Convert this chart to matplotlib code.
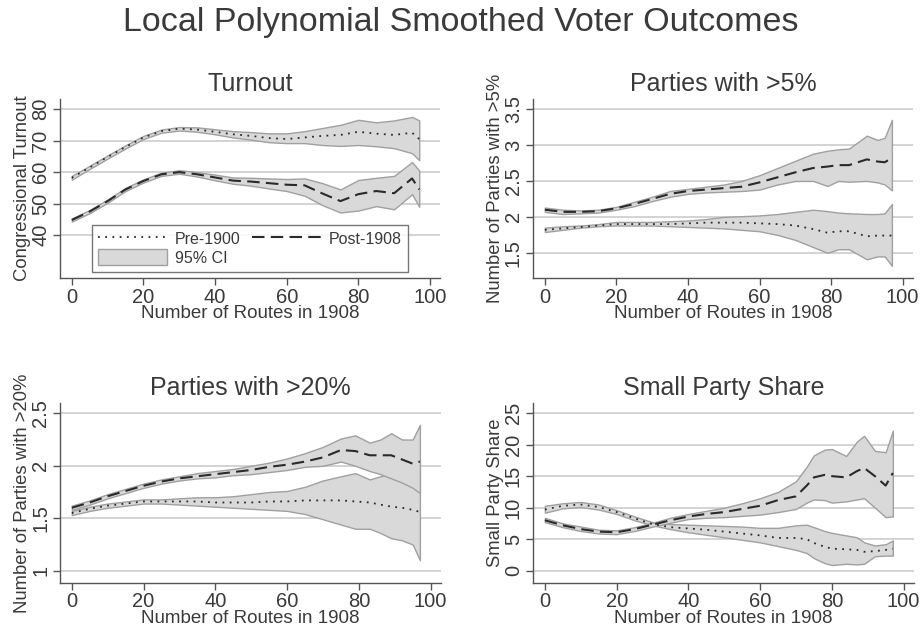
import matplotlib
matplotlib.use('Agg')
import matplotlib.pyplot as plt
from matplotlib.patches import Patch
from matplotlib.lines import Line2D

plt.rcParams['font.family'] = ['Liberation Sans', 'DejaVu Sans']

# --- Turnout ---
x_turn = [0, 5, 10, 15, 20, 25, 30, 35, 40, 45, 50, 55, 60, 65, 70, 75, 80, 85, 90, 95, 97]
turn_pre = [58.2, 61.5, 64.8, 68, 71, 73, 73.8, 73.5, 72.8, 72, 71.5, 70.8, 70.5, 71, 71.5, 71.8, 72.8, 72.2, 71.8, 72.5, 70.5]
turn_pre_lo = [57.6, 61, 64.3, 67.5, 70.5, 72.5, 73.2, 72.8, 72, 71, 70.3, 69.5, 69.2, 69.2, 68.6, 68.3, 68.6, 68.2, 67.6, 66, 63.8]
turn_pre_hi = [58.8, 62, 65.3, 68.5, 71.5, 73.5, 74.3, 74.2, 73.6, 73, 72.7, 72.3, 72.3, 73, 74, 75, 76.6, 75.8, 76.4, 77.5, 76.4]
turn_post = [44.8, 47.5, 50.8, 54.5, 57.2, 59.3, 60, 59.3, 58.3, 57.3, 57, 56.5, 56, 55.8, 53.2, 50.8, 53, 54, 53.3, 58, 54.5]
turn_post_lo = [44.3, 47, 50.3, 54, 56.7, 58.8, 59.5, 58.6, 57.4, 56.3, 55.7, 54.8, 54, 52.5, 49.5, 47.2, 47.8, 49.2, 48.2, 53, 49]
turn_post_hi = [45.3, 48, 51.3, 55, 57.7, 59.8, 60.6, 60, 59.2, 58.3, 58.2, 58, 57.8, 58, 56.5, 54.5, 57.5, 58.2, 58.8, 63.2, 60.5]

# --- Parties with >5% ---
x_p5 = [0, 5, 10, 15, 20, 25, 30, 35, 40, 45, 50, 55, 60, 65, 70, 75, 79, 82, 85, 90, 93, 95, 97]
p5_post = [2.1, 2.07, 2.07, 2.08, 2.12, 2.18, 2.25, 2.32, 2.36, 2.38, 2.4, 2.42, 2.48, 2.55, 2.62, 2.68, 2.7, 2.72, 2.72, 2.8, 2.77, 2.76, 2.82]
p5_post_lo = [2.07, 2.04, 2.05, 2.06, 2.1, 2.15, 2.22, 2.28, 2.32, 2.34, 2.35, 2.36, 2.38, 2.45, 2.5, 2.5, 2.43, 2.5, 2.49, 2.5, 2.48, 2.45, 2.37]
p5_post_hi = [2.13, 2.1, 2.09, 2.1, 2.14, 2.21, 2.28, 2.36, 2.39, 2.42, 2.45, 2.5, 2.58, 2.68, 2.78, 2.88, 2.92, 2.94, 2.95, 3.13, 3.07, 3.1, 3.35]
p5_pre = [1.82, 1.84, 1.86, 1.88, 1.9, 1.9, 1.9, 1.9, 1.91, 1.92, 1.92, 1.92, 1.91, 1.9, 1.88, 1.83, 1.78, 1.8, 1.8, 1.73, 1.74, 1.74, 1.74]
p5_pre_lo = [1.79, 1.82, 1.85, 1.87, 1.88, 1.88, 1.88, 1.87, 1.86, 1.85, 1.84, 1.82, 1.8, 1.75, 1.68, 1.58, 1.5, 1.55, 1.55, 1.41, 1.45, 1.45, 1.32]
p5_pre_hi = [1.85, 1.87, 1.88, 1.9, 1.93, 1.93, 1.93, 1.94, 1.95, 1.97, 2.0, 2.01, 2.02, 2.04, 2.07, 2.1, 2.08, 2.06, 2.05, 2.04, 2.04, 2.05, 2.18]

# --- Parties with >20% ---
x_p20 = [0, 5, 10, 15, 20, 25, 30, 35, 40, 45, 50, 55, 60, 65, 70, 75, 79, 83, 86, 89, 92, 95, 97]
p20_post = [1.6, 1.65, 1.71, 1.76, 1.81, 1.85, 1.88, 1.9, 1.92, 1.94, 1.96, 1.99, 2.01, 2.04, 2.08, 2.15, 2.14, 2.1, 2.1, 2.1, 2.06, 2.02, 2.04]
p20_post_lo = [1.58, 1.63, 1.69, 1.74, 1.79, 1.83, 1.86, 1.88, 1.89, 1.91, 1.92, 1.94, 1.96, 1.99, 2.0, 2.04, 2.0, 1.95, 1.92, 1.88, 1.84, 1.79, 1.74]
p20_post_hi = [1.62, 1.67, 1.73, 1.78, 1.83, 1.87, 1.9, 1.93, 1.95, 1.97, 2.0, 2.03, 2.07, 2.12, 2.18, 2.26, 2.29, 2.22, 2.25, 2.31, 2.25, 2.25, 2.39]
p20_pre = [1.55, 1.59, 1.62, 1.64, 1.66, 1.66, 1.66, 1.66, 1.65, 1.65, 1.65, 1.66, 1.66, 1.67, 1.67, 1.67, 1.66, 1.65, 1.63, 1.61, 1.6, 1.58, 1.56]
p20_pre_lo = [1.53, 1.57, 1.6, 1.62, 1.64, 1.64, 1.63, 1.62, 1.61, 1.6, 1.59, 1.58, 1.57, 1.54, 1.49, 1.44, 1.4, 1.4, 1.36, 1.31, 1.29, 1.25, 1.1]
p20_pre_hi = [1.57, 1.61, 1.64, 1.66, 1.68, 1.68, 1.69, 1.7, 1.7, 1.71, 1.73, 1.75, 1.76, 1.8, 1.86, 1.9, 1.93, 1.87, 1.9, 1.92, 1.95, 2.0, 2.05]

# --- Small Party Share ---
x_sps = [0, 5, 10, 15, 20, 25, 30, 35, 40, 45, 50, 55, 60, 65, 70, 73, 75, 78, 80, 84, 87, 89, 92, 95, 97]
sps_post = [8.0, 7.2, 6.6, 6.2, 6.1, 6.6, 7.3, 8.0, 8.6, 9.0, 9.3, 9.8, 10.3, 11.2, 11.8, 13.5, 14.8, 15.2, 15.0, 14.8, 15.8, 16.3, 15.0, 13.5, 15.5]
sps_post_lo = [7.7, 6.9, 6.3, 5.9, 5.8, 6.3, 7.0, 7.6, 8.2, 8.4, 8.5, 8.7, 8.9, 9.3, 9.8, 10.8, 11.3, 11.2, 10.8, 11.0, 11.3, 11.5, 10.0, 8.5, 8.6]
sps_post_hi = [8.4, 7.5, 7.0, 6.5, 6.4, 6.9, 7.6, 8.4, 9.0, 9.5, 10.0, 10.7, 11.5, 12.5, 14.2, 16.5, 18.3, 19.2, 19.3, 18.2, 20.5, 21.4, 19.0, 18.8, 22.2]
sps_pre = [9.7, 10.3, 10.5, 10.1, 9.3, 8.3, 7.4, 6.9, 6.7, 6.5, 6.2, 5.9, 5.6, 5.2, 5.2, 5.0, 4.4, 3.8, 3.5, 3.4, 3.3, 3.0, 3.1, 3.3, 3.5]
sps_pre_lo = [9.2, 9.9, 10.1, 9.7, 9.0, 8.0, 7.2, 6.6, 6.1, 5.7, 5.3, 4.9, 4.5, 3.9, 3.3, 2.8, 2.0, 1.2, 0.9, 1.1, 1.0, 1.1, 2.3, 2.4, 2.4]
sps_pre_hi = [10.3, 10.7, 10.9, 10.5, 9.6, 8.6, 7.7, 7.4, 7.3, 7.2, 7.1, 7.0, 6.8, 6.8, 7.2, 7.3, 6.9, 6.3, 6.0, 5.6, 5.3, 4.5, 4.0, 4.2, 4.8]

TEXT = '#3a3a3a'
LINE = '#2a2a2a'
FILL = '#d9d9d9'
EDGE = '#a0a0a0'
GRID = '#cccccc'

fig = plt.figure(figsize=(9.22, 6.33), dpi=100)
fig.patch.set_facecolor('white')

fig.text(0.5, 1 - 23 / 633, 'Local Polynomial Smoothed Voter Outcomes',
         ha='center', va='center', fontsize=24.5, color=TEXT)


def panel(rect, x, pre, pre_lo, pre_hi, post, post_lo, post_hi,
          title, ylabel, ylim, yticks, yticklabels, xlim):
    ax = fig.add_axes(rect)
    for lo, hi in [(pre_lo, pre_hi), (post_lo, post_hi)]:
        ax.fill_between(x, lo, hi, facecolor=FILL, edgecolor=EDGE, linewidth=1.0, zorder=2)
    ax.plot(x, pre, color=LINE, linestyle=(0, (1, 3)), linewidth=1.3, zorder=3)
    ax.plot(x, post, color=LINE, linestyle=(0, (6, 3)), linewidth=1.5, zorder=3)
    ax.set_xlim(*xlim)
    ax.set_ylim(*ylim)
    ax.set_xticks([0, 20, 40, 60, 80, 100])
    ax.set_yticks(yticks)
    ax.set_yticklabels(yticklabels, rotation=90, va='center')
    ax.grid(axis='y', color=GRID, linewidth=1.2, zorder=0)
    ax.set_axisbelow(True)
    for s in ['top', 'right']:
        ax.spines[s].set_visible(False)
    for s in ['left', 'bottom']:
        ax.spines[s].set_color('#555555')
        ax.spines[s].set_linewidth(1.0)
    ax.tick_params(colors='#555555', labelcolor=TEXT, labelsize=14.5, length=5, width=1.0, pad=2)
    ax.set_title(title, fontsize=18, color=TEXT, pad=6)
    ax.set_xlabel('Number of Routes in 1908', fontsize=13.5, color=TEXT, labelpad=-1)
    ax.set_ylabel(ylabel, fontsize=13.3, color=TEXT, labelpad=0)
    return ax


xl_left = (-3.3, 102.8)
xl_right = (-3.4, 102.9)

ax1 = panel([60 / 922, 1 - 278 / 633, 380 / 922, 179 / 633], x_turn,
            turn_pre, turn_pre_lo, turn_pre_hi, turn_post, turn_post_lo, turn_post_hi,
            'Turnout', 'Congressional Turnout', (26.4, 83.2),
            [40, 50, 60, 70, 80], ['40', '50', '60', '70', '80'], xl_left)

ax2 = panel([532.7 / 922, 1 - 278 / 633, 380.3 / 922, 179 / 633], x_p5,
            p5_pre, p5_pre_lo, p5_pre_hi, p5_post, p5_post_lo, p5_post_hi,
            'Parties with >5%', 'Number of Parties with >5%', (1.15, 3.64),
            [1.5, 2, 2.5, 3, 3.5], ['1.5', '2', '2.5', '3', '3.5'], xl_right)

ax3 = panel([60 / 922, 1 - 582.7 / 633, 380.7 / 922, 179.7 / 633], x_p20,
            p20_pre, p20_pre_lo, p20_pre_hi, p20_post, p20_post_lo, p20_post_hi,
            'Parties with >20%', 'Number of Parties with >20%', (0.886, 2.598),
            [1, 1.5, 2, 2.5], ['1', '1.5', '2', '2.5'], xl_left)

ax4 = panel([532.7 / 922, 1 - 582.7 / 633, 381.3 / 922, 179.7 / 633], x_sps,
            sps_pre, sps_pre_lo, sps_pre_hi, sps_post, sps_post_lo, sps_post_hi,
            'Small Party Share', 'Small Party Share', (-1.9, 26.6),
            [0, 5, 10, 15, 20, 25], ['0', '5', '10', '15', '20', '25'], xl_right)

handles = [Line2D([], [], color=LINE, linestyle=(0, (1, 3)), linewidth=1.3),
           Patch(facecolor=FILL, edgecolor=EDGE, linewidth=1.0),
           Line2D([], [], color=LINE, linestyle=(0, (6, 3)), linewidth=1.5)]
labels = ['Pre-1900', '95% CI', 'Post-1908']
leg = ax1.legend(handles, labels, ncol=2, loc='lower left',
                 bbox_to_anchor=(0.084, 0.034, 0.832, 0.296), mode='expand',
                 fontsize=11.5, frameon=True, fancybox=False, edgecolor='#555555',
                 handlelength=4.3, handleheight=1.1, handletextpad=0.5,
                 borderpad=0.4, labelspacing=0.15, borderaxespad=0)
leg.get_frame().set_linewidth(1.0)
for t in leg.get_texts():
    t.set_color(TEXT)
leg.set_zorder(5)

fig.savefig('out.png', dpi=100, facecolor='white')
